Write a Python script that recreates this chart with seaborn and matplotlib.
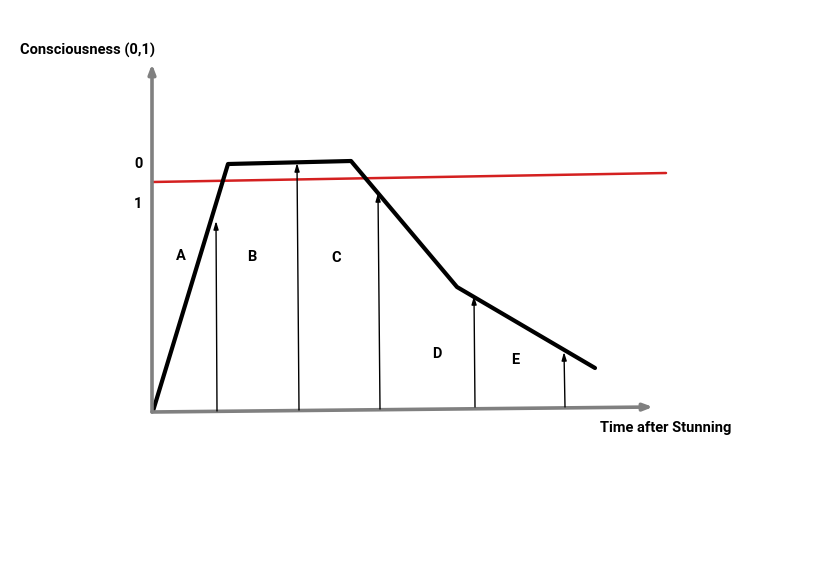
import matplotlib
matplotlib.use("Agg")
import matplotlib.pyplot as plt
import seaborn as sns
import pandas as pd

sns.set_theme(style="white")
plt.rcParams['font.family'] = ['Roboto', 'DejaVu Sans']

# Diagram coordinates: time after stunning (t) and consciousness level (c), arbitrary units
curve_t = [1, 76, 199, 305, 443]
curve_c = [1, 248, 251, 125, 44]

threshold_t = [0, 514]
threshold_c = [230, 239]

arrow_base_t = [65, 147, 228, 323, 413]
arrow_base_c = [1, 2, 3, 5, 5]
arrow_tip_t = [64, 145, 226, 322, 412]
arrow_tip_c = [191, 249, 219, 116, 60]

region_labels = ["A", "B", "C", "D", "E"]
region_t = [29, 100, 184, 285, 363]
region_c = [156, 155, 154, 58, 52]

ytick_pos = [249, 209]
ytick_labels = ["0", "1"]

axis_x_end = (501, 5)
axis_y_end = (0, 348)

fig = plt.figure(figsize=(8.26, 5.66), dpi=100)
ax = fig.add_axes([152 / 826, (566 - 412) / 566, 674 / 826, 412 / 566])
ax.set_xlim(0, 674)
ax.set_ylim(0, 412)
for s in ax.spines.values():
    s.set_visible(False)
ax.set_xticks([])
ax.set_yticks(ytick_pos)
ax.set_yticklabels(ytick_labels, fontsize=10.5, fontweight="bold", color="black")
ax.tick_params(axis="y", length=0, pad=7)

grey = "#808080"
# axes arrows
for end in (axis_x_end, axis_y_end):
    ax.annotate("", xy=end, xytext=(0, 0), annotation_clip=False,
                arrowprops=dict(arrowstyle="-|>,head_length=0.45,head_width=0.17", color=grey, lw=2.6,
                                shrinkA=0, shrinkB=0))

# threshold (red) and consciousness curve (black)
df_thr = pd.DataFrame({"t": threshold_t, "c": threshold_c})
sns.lineplot(data=df_thr, x="t", y="c", ax=ax, color="#d42020", lw=1.8, sort=False, clip_on=False)
df_curve = pd.DataFrame({"t": curve_t, "c": curve_c})
sns.lineplot(data=df_curve, x="t", y="c", ax=ax, color="black", lw=3.0, sort=False, clip_on=False)
ax.set_xlabel("")
ax.set_ylabel("")

# vertical arrows
for bt, bc, tt, tc in zip(arrow_base_t, arrow_base_c, arrow_tip_t, arrow_tip_c):
    ax.annotate("", xy=(tt, tc), xytext=(bt, bc), annotation_clip=False,
                arrowprops=dict(arrowstyle="-|>,head_length=0.4,head_width=0.12", color="black",
                                lw=1.0, shrinkA=0, shrinkB=0))

for lab, t, c in zip(region_labels, region_t, region_c):
    ax.text(t, c, lab, ha="center", va="center", fontsize=10.5, fontweight="bold", color="black")

fig.text(20 / 826, 1 - 50 / 566, "Consciousness (0,1)", ha="left", va="center",
         fontsize=10.5, fontweight="bold", color="black")
fig.text(600 / 826, 1 - 428 / 566, "Time after Stunning", ha="left", va="center",
         fontsize=10.5, fontweight="bold", color="black")

fig.savefig("out.png", dpi=100, facecolor="white")
